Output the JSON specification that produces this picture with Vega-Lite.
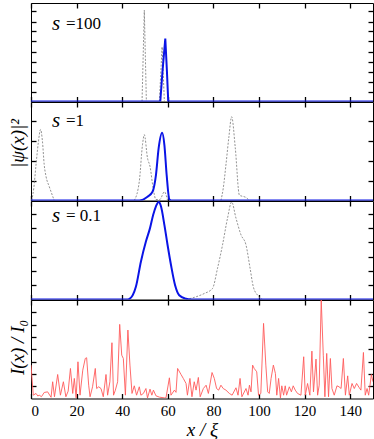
{
  "$schema": "https://vega.github.io/schema/vega-lite/v6.json",
  "padding": {"left": 7, "top": 1, "right": 0, "bottom": 0},
  "bounds": "flush",
  "spacing": 0,
  "config": {
    "view": {"stroke": "black", "strokeWidth": 1},
    "font": "Liberation Serif",
    "axis": {"grid": false, "domain": false, "ticks": true, "zindex": 2, "tickColor": "#000000", "tickOpacity": 1, "tickSize": 5, "offset": -5, "tickWidth": 1.3, "labels": false, "labelFont": "Liberation Serif", "titleFont": "Liberation Serif", "titleFontWeight": "normal", "titleColor": "black", "labelColor": "black"}
  },
  "datasets": {
    "one": [{}],
    "p1": [
      {"k": "g1", "x": 48.7, "v": 0}, {"k": "g1", "x": 49.7, "v": 9.13}, {"k": "g1", "x": 50.6, "v": 0},
      {"k": "g2", "x": 56.3, "v": 0}, {"k": "g2", "x": 57.5, "v": 5.47}, {"k": "g2", "x": 58.5, "v": 0},
      {"k": "b", "x": 0, "v": 0}, {"k": "b", "x": 56.7, "v": 0}, {"k": "b", "x": 57.7, "v": 3.1}, {"k": "b", "x": 58.9, "v": 6.3}, {"k": "b", "x": 59.6, "v": 3.1}, {"k": "b", "x": 60.2, "v": 0}, {"k": "b", "x": 150, "v": 0}
    ],
    "p2": [
      {"k": "g1", "x": 0.3, "v": 0}, {"k": "g1", "x": 1.2, "v": 0.6}, {"k": "g1", "x": 2.2, "v": 1.79}, {"k": "g1", "x": 3.2, "v": 2.9}, {"k": "g1", "x": 4.2, "v": 3.57}, {"k": "g1", "x": 5.0, "v": 3.0}, {"k": "g1", "x": 5.8, "v": 1.79}, {"k": "g1", "x": 6.6, "v": 1.2}, {"k": "g1", "x": 8.0, "v": 0.7}, {"k": "g1", "x": 10.2, "v": 0},
      {"k": "g2", "x": 45.3, "v": 0}, {"k": "g2", "x": 47.5, "v": 0.96}, {"k": "g2", "x": 48.9, "v": 2.8}, {"k": "g2", "x": 49.7, "v": 3.31}, {"k": "g2", "x": 51.1, "v": 2.13}, {"k": "g2", "x": 52.2, "v": 1.71}, {"k": "g2", "x": 53.6, "v": 0.6}, {"k": "g2", "x": 54.8, "v": 0.05}, {"k": "g2", "x": 56.5, "v": 0.05}, {"k": "g2", "x": 58.5, "v": 0.44}, {"k": "g2", "x": 59.9, "v": 0},
      {"k": "g3", "x": 83.3, "v": 0}, {"k": "g3", "x": 84.3, "v": 0.6}, {"k": "g3", "x": 85.5, "v": 1.79}, {"k": "g3", "x": 86.8, "v": 3.2}, {"k": "g3", "x": 88.0, "v": 4.21}, {"k": "g3", "x": 89.6, "v": 2.64}, {"k": "g3", "x": 91.4, "v": 0.27}, {"k": "g3", "x": 94.3, "v": 0.15}, {"k": "g3", "x": 95.8, "v": 0},
      {"k": "b", "x": 0, "v": 0}, {"k": "b", "x": 47.5, "v": 0}, {"k": "b", "x": 51.1, "v": 0.19}, {"k": "b", "x": 53.3, "v": 0.44}, {"k": "b", "x": 54.8, "v": 1.28}, {"k": "b", "x": 56.0, "v": 2.64}, {"k": "b", "x": 57.5, "v": 3.4}, {"k": "b", "x": 58.5, "v": 2.8}, {"k": "b", "x": 59.5, "v": 1.28}, {"k": "b", "x": 60.7, "v": 0.05}, {"k": "b", "x": 61.5, "v": 0}, {"k": "b", "x": 150, "v": 0}
    ],
    "p3": [
      {"k": "g1", "x": 68, "v": 0}, {"k": "g1", "x": 72.4, "v": 0.19}, {"k": "g1", "x": 76, "v": 0.42}, {"k": "g1", "x": 79.6, "v": 0.77}, {"k": "g1", "x": 81.8, "v": 2.18}, {"k": "g1", "x": 84.0, "v": 3.82}, {"k": "g1", "x": 86.2, "v": 5.7}, {"k": "g1", "x": 88.0, "v": 6.83}, {"k": "g1", "x": 89.9, "v": 5.7}, {"k": "g1", "x": 92.1, "v": 4.53}, {"k": "g1", "x": 94.3, "v": 3.82}, {"k": "g1", "x": 96.1, "v": 2.18}, {"k": "g1", "x": 97.5, "v": 0.89}, {"k": "g1", "x": 99.4, "v": 0.3}, {"k": "g1", "x": 101.6, "v": 0},
      {"k": "b", "x": 0, "v": 0}, {"k": "b", "x": 42.4, "v": 0}, {"k": "b", "x": 44.6, "v": 0.3}, {"k": "b", "x": 46.0, "v": 0.89}, {"k": "b", "x": 48.2, "v": 2.65}, {"k": "b", "x": 50.4, "v": 4.06}, {"k": "b", "x": 52.2, "v": 5.0}, {"k": "b", "x": 53.6, "v": 5.94}, {"k": "b", "x": 54.8, "v": 6.53}, {"k": "b", "x": 56.0, "v": 6.83}, {"k": "b", "x": 57.0, "v": 6.53}, {"k": "b", "x": 58.5, "v": 5.23}, {"k": "b", "x": 59.9, "v": 3.82}, {"k": "b", "x": 61.4, "v": 2.42}, {"k": "b", "x": 63.2, "v": 1.0}, {"k": "b", "x": 65.0, "v": 0.3}, {"k": "b", "x": 68.0, "v": 0.05}, {"k": "b", "x": 70.2, "v": 0}, {"k": "b", "x": 150, "v": 0}
    ],
    "red": [
      {"x": 0, "v": 2.71}, {"x": 1.0, "v": 0.27}, {"x": 2.2, "v": 0.41}, {"x": 3.0, "v": 0.2}, {"x": 3.6, "v": 0.27}, {"x": 4.6, "v": 0.15}, {"x": 5.8, "v": 0.49}, {"x": 7.3, "v": 0.54}, {"x": 8.2, "v": 0.27}, {"x": 8.8, "v": 0.1}, {"x": 9.5, "v": 1.36}, {"x": 10.3, "v": 0.14}, {"x": 11.7, "v": 1.95}, {"x": 12.9, "v": 0.27}, {"x": 14.2, "v": 1.36}, {"x": 15.3, "v": 0.14}, {"x": 16.3, "v": 0.6}, {"x": 17.3, "v": 2.44}, {"x": 18.3, "v": 0.41}, {"x": 19.0, "v": 1.63}, {"x": 19.8, "v": 0.05}, {"x": 20.6, "v": 2.98}, {"x": 21.5, "v": 0.27}, {"x": 22.7, "v": 2.3}, {"x": 23.8, "v": 3.25}, {"x": 24.4, "v": 3.31}, {"x": 25.3, "v": 1.08}, {"x": 25.9, "v": 0.14}, {"x": 27.0, "v": 0.95}, {"x": 28.2, "v": 2.44}, {"x": 28.8, "v": 0.81}, {"x": 29.7, "v": 0.95}, {"x": 30.7, "v": 0.81}, {"x": 31.7, "v": 0.14}, {"x": 32.9, "v": 1.95}, {"x": 33.6, "v": 0.27}, {"x": 34.6, "v": 1.36}, {"x": 35.5, "v": 4.53}, {"x": 36.2, "v": 0.27}, {"x": 37.0, "v": 0.68}, {"x": 38.0, "v": 1.36}, {"x": 38.9, "v": 6.02}, {"x": 39.8, "v": 3.52}, {"x": 40.5, "v": 3.25}, {"x": 41.4, "v": 0.27}, {"x": 42.5, "v": 5.56}, {"x": 43.4, "v": 2.71}, {"x": 44.3, "v": 0.41}, {"x": 45.3, "v": 1.03}, {"x": 46.3, "v": 0.27}, {"x": 47.5, "v": 0.95}, {"x": 48.2, "v": 0.27}, {"x": 49.3, "v": 0.41}, {"x": 50.4, "v": 0.81}, {"x": 51.1, "v": 0.05}, {"x": 52.2, "v": 0.76}, {"x": 53.0, "v": 0.27}, {"x": 53.7, "v": 0.68}, {"x": 54.8, "v": 0.22}, {"x": 56.3, "v": 0.11}, {"x": 58.5, "v": 0.05}, {"x": 59.2, "v": 0.05}, {"x": 60.7, "v": 1.68}, {"x": 61.4, "v": 0.27}, {"x": 62.9, "v": 0.68}, {"x": 63.6, "v": 0.5}, {"x": 64.3, "v": 2.44}, {"x": 65.8, "v": 1.95}, {"x": 66.8, "v": 1.63}, {"x": 68.0, "v": 1.22}, {"x": 68.6, "v": 0.27}, {"x": 69.7, "v": 1.63}, {"x": 70.6, "v": 0.14}, {"x": 71.6, "v": 1.36}, {"x": 72.4, "v": 0.68}, {"x": 73.4, "v": 1.71}, {"x": 74.2, "v": 0.14}, {"x": 75.6, "v": 0.81}, {"x": 76.8, "v": 1.08}, {"x": 77.8, "v": 0.41}, {"x": 79.4, "v": 2.11}, {"x": 80.4, "v": 1.63}, {"x": 81.4, "v": 0.81}, {"x": 82.3, "v": 0.68}, {"x": 83.3, "v": 1.08}, {"x": 84.3, "v": 0.81}, {"x": 85.5, "v": 0.68}, {"x": 87.0, "v": 0.41}, {"x": 88.2, "v": 0.27}, {"x": 89.9, "v": 0.87}, {"x": 90.8, "v": 0.27}, {"x": 91.7, "v": 1.63}, {"x": 92.5, "v": 0.14}, {"x": 94.3, "v": 0.81}, {"x": 95.2, "v": 0.27}, {"x": 95.8, "v": 1.08}, {"x": 96.5, "v": 0.54}, {"x": 97.2, "v": 2.71}, {"x": 97.9, "v": 2.44}, {"x": 99.0, "v": 2.17}, {"x": 99.8, "v": 0.27}, {"x": 100.8, "v": 0.41}, {"x": 102.0, "v": 6.1}, {"x": 103.0, "v": 2.71}, {"x": 103.8, "v": 0.54}, {"x": 104.5, "v": 0.41}, {"x": 105.3, "v": 1.63}, {"x": 106.3, "v": 2.71}, {"x": 107.2, "v": 2.03}, {"x": 107.8, "v": 0.27}, {"x": 108.6, "v": 1.63}, {"x": 109.4, "v": 0.05}, {"x": 110.0, "v": 1.03}, {"x": 110.8, "v": 0.27}, {"x": 111.5, "v": 1.03}, {"x": 112.1, "v": 0.27}, {"x": 113.3, "v": 0.95}, {"x": 114.2, "v": 0.54}, {"x": 115.0, "v": 1.03}, {"x": 115.9, "v": 0.68}, {"x": 116.9, "v": 0.41}, {"x": 118.4, "v": 0.27}, {"x": 119.6, "v": 3.39}, {"x": 120.3, "v": 0.27}, {"x": 121.3, "v": 1.22}, {"x": 122.3, "v": 0.27}, {"x": 123.2, "v": 3.85}, {"x": 123.9, "v": 0.54}, {"x": 125.0, "v": 3.2}, {"x": 125.7, "v": 0.27}, {"x": 126.4, "v": 1.08}, {"x": 127.3, "v": 8.0}, {"x": 128.2, "v": 3.52}, {"x": 128.9, "v": 0.14}, {"x": 129.7, "v": 3.66}, {"x": 130.5, "v": 0.14}, {"x": 131.3, "v": 3.25}, {"x": 132.0, "v": 0.81}, {"x": 133.0, "v": 0.27}, {"x": 134.2, "v": 1.03}, {"x": 135.1, "v": 0.95}, {"x": 136.0, "v": 0.81}, {"x": 137.0, "v": 3.25}, {"x": 137.9, "v": 0.27}, {"x": 138.9, "v": 1.84}, {"x": 139.6, "v": 0.27}, {"x": 140.8, "v": 1.22}, {"x": 141.8, "v": 0.81}, {"x": 142.8, "v": 1.22}, {"x": 144.0, "v": 0.87}, {"x": 144.7, "v": 0.68}, {"x": 145.8, "v": 3.74}, {"x": 146.6, "v": 0.27}, {"x": 147.4, "v": 0.81}, {"x": 148.1, "v": 0.27}, {"x": 149.3, "v": 1.95}, {"x": 150, "v": 1.36}
    ]
  },
  "vconcat": [
    {
      "width": 342, "height": 98.5,
      "data": {"name": "p1"},
      "layer": [
        {
          "transform": [{"filter": "datum.k !== 'b'"}],
          "mark": {"type": "line", "color": "#777777", "strokeWidth": 0.8, "strokeDash": [2, 1.5], "clip": true},
          "encoding": {
            "x": {"field": "x", "type": "quantitative", "scale": {"domain": [0, 150], "nice": false}, "axis": {"orient": "bottom", "values": [0, 20, 40, 60, 80, 100, 120, 140], "title": null}},
            "y": {"field": "v", "type": "quantitative", "scale": {"domain": [0, 9.85], "nice": false}, "axis": {"orient": "left", "values": [1, 2, 3, 4, 5, 6, 7, 8, 9], "title": null}},
            "detail": {"field": "k"}
          }
        },
        {
          "data": {"name": "one"},
          "mark": {"type": "text", "text": "s", "fontSize": 21, "fontStyle": "italic", "align": "left", "baseline": "middle", "font": "Liberation Serif"},
          "encoding": {"x": {"datum": 9.2, "type": "quantitative", "axis": null}, "y": {"datum": 7.8, "type": "quantitative", "axis": null}}
        },
        {
          "data": {"name": "one"},
          "mark": {"type": "text", "text": "=100", "fontSize": 17, "align": "left", "baseline": "middle", "font": "Liberation Serif"},
          "encoding": {"x": {"datum": 15.3, "type": "quantitative", "axis": null}, "y": {"datum": 7.8, "type": "quantitative", "axis": null}}
        },
        {
          "transform": [{"filter": "datum.k === 'b'"}],
          "mark": {"type": "line", "color": "#0a14e6", "strokeWidth": 2, "clip": true},
          "encoding": {
            "x": {"field": "x", "type": "quantitative", "axis": {"orient": "top", "values": [0, 20, 40, 60, 80, 100, 120, 140], "title": null}},
            "y": {"field": "v", "type": "quantitative", "axis": {"orient": "right", "values": [1, 2, 3, 4, 5, 6, 7, 8, 9], "title": null}}
          }
        }
      ],
      "resolve": {"axis": {"x": "independent", "y": "independent"}}
    },
    {
      "width": 342, "height": 98.5,
      "data": {"name": "p2"},
      "layer": [
        {
          "transform": [{"filter": "datum.k !== 'b'"}],
          "mark": {"type": "line", "color": "#777777", "strokeWidth": 0.8, "strokeDash": [2, 1.5], "interpolate": "monotone", "clip": true},
          "encoding": {
            "x": {"field": "x", "type": "quantitative", "scale": {"domain": [0, 150], "nice": false}, "axis": {"orient": "bottom", "values": [0, 20, 40, 60, 80, 100, 120, 140], "title": null}},
            "y": {"field": "v", "type": "quantitative", "scale": {"domain": [0, 4.95], "nice": false}, "axis": {"orient": "left", "values": [1, 2, 3, 4], "title": "|ψ(x)|²", "titleFontSize": 19, "titleFontStyle": "italic", "titleX": -19, "titleY": 41, "titleAngle": -90, "titleBaseline": "middle", "titleAlign": "center"}},
            "detail": {"field": "k"}
          }
        },
        {
          "data": {"name": "one"},
          "mark": {"type": "text", "text": "s", "fontSize": 21, "fontStyle": "italic", "align": "left", "baseline": "middle", "font": "Liberation Serif"},
          "encoding": {"x": {"datum": 9.2, "type": "quantitative", "axis": null}, "y": {"datum": 4.0, "type": "quantitative", "axis": null}}
        },
        {
          "data": {"name": "one"},
          "mark": {"type": "text", "text": "=1", "fontSize": 17, "align": "left", "baseline": "middle", "font": "Liberation Serif"},
          "encoding": {"x": {"datum": 15.3, "type": "quantitative", "axis": null}, "y": {"datum": 4.0, "type": "quantitative", "axis": null}}
        },
        {
          "transform": [{"filter": "datum.k === 'b'"}],
          "mark": {"type": "line", "color": "#0a14e6", "strokeWidth": 2, "interpolate": "monotone", "clip": true},
          "encoding": {
            "x": {"field": "x", "type": "quantitative", "axis": {"orient": "top", "values": [0, 20, 40, 60, 80, 100, 120, 140], "title": null}},
            "y": {"field": "v", "type": "quantitative", "axis": {"orient": "right", "values": [1, 2, 3, 4], "title": null}}
          }
        }
      ],
      "resolve": {"axis": {"x": "independent", "y": "independent"}}
    },
    {
      "width": 342, "height": 98.5,
      "data": {"name": "p3"},
      "layer": [
        {
          "transform": [{"filter": "datum.k !== 'b'"}],
          "mark": {"type": "line", "color": "#777777", "strokeWidth": 0.8, "strokeDash": [2, 1.5], "interpolate": "monotone", "clip": true},
          "encoding": {
            "x": {"field": "x", "type": "quantitative", "scale": {"domain": [0, 150], "nice": false}, "axis": {"orient": "bottom", "values": [0, 20, 40, 60, 80, 100, 120, 140], "title": null}},
            "y": {"field": "v", "type": "quantitative", "scale": {"domain": [0, 6.9], "nice": false}, "axis": {"orient": "left", "values": [1, 2, 3, 4, 5, 6], "title": null}},
            "detail": {"field": "k"}
          }
        },
        {
          "data": {"name": "one"},
          "mark": {"type": "text", "text": "s", "fontSize": 21, "fontStyle": "italic", "align": "left", "baseline": "middle", "font": "Liberation Serif"},
          "encoding": {"x": {"datum": 9.2, "type": "quantitative", "axis": null}, "y": {"datum": 5.82, "type": "quantitative", "axis": null}}
        },
        {
          "data": {"name": "one"},
          "mark": {"type": "text", "text": "= 0.1", "fontSize": 17, "align": "left", "baseline": "middle", "font": "Liberation Serif"},
          "encoding": {"x": {"datum": 15.3, "type": "quantitative", "axis": null}, "y": {"datum": 5.82, "type": "quantitative", "axis": null}}
        },
        {
          "transform": [{"filter": "datum.k === 'b'"}],
          "mark": {"type": "line", "color": "#0a14e6", "strokeWidth": 2, "interpolate": "monotone", "clip": true},
          "encoding": {
            "x": {"field": "x", "type": "quantitative", "axis": {"orient": "top", "values": [0, 20, 40, 60, 80, 100, 120, 140], "title": null}},
            "y": {"field": "v", "type": "quantitative", "axis": {"orient": "right", "values": [1, 2, 3, 4, 5, 6], "title": null}}
          }
        }
      ],
      "resolve": {"axis": {"x": "independent", "y": "independent"}}
    },
    {
      "width": 342, "height": 98.5,
      "data": {"name": "red"},
      "layer": [
        {
          "mark": {"type": "line", "color": "#ff5050", "opacity": 0, "clip": true},
          "encoding": {
            "x": {"field": "x", "type": "quantitative", "scale": {"domain": [0, 150], "nice": false}, "axis": {"orient": "bottom", "values": [0, 20, 40, 60, 80, 100, 120, 140], "labels": true, "labelFontSize": 15, "labelPadding": 5, "title": "x / ξ", "titleFontSize": 19, "titleFontStyle": "italic", "titleY": 42, "titleBaseline": "alphabetic"}},
            "y": {"field": "v", "type": "quantitative", "scale": {"domain": [0, 8], "nice": false}, "axis": {"orient": "left", "values": [1, 2, 3, 4, 5, 6, 7], "title": "I(x) / I₀", "titleFontSize": 19, "titleFontStyle": "italic", "titleX": -19, "titleY": 47, "titleAngle": -90, "titleBaseline": "middle", "titleAlign": "center"}}
          }
        },
        {
          "mark": {"type": "line", "color": "#ff5a5a", "strokeWidth": 0.9, "clip": true},
          "encoding": {
            "x": {"field": "x", "type": "quantitative", "axis": {"orient": "top", "values": [0, 20, 40, 60, 80, 100, 120, 140], "title": null}},
            "y": {"field": "v", "type": "quantitative", "axis": {"orient": "right", "values": [1, 2, 3, 4, 5, 6, 7], "title": null}}
          }
        }
      ],
      "resolve": {"axis": {"x": "independent", "y": "independent"}}
    }
  ]
}
